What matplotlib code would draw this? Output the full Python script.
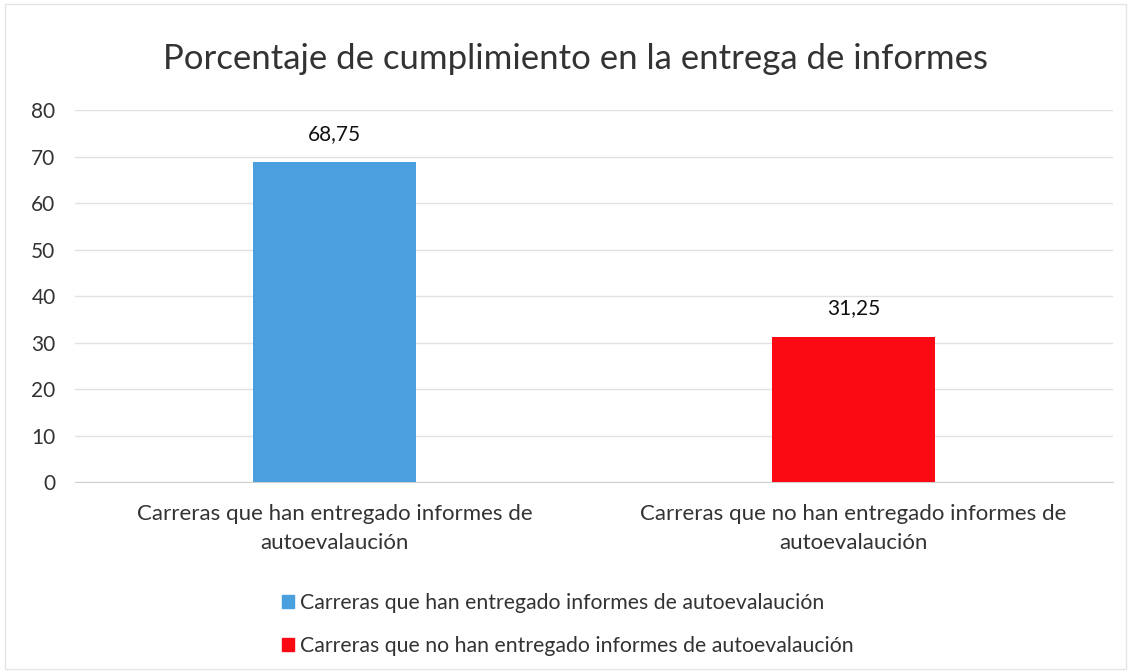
import matplotlib.pyplot as plt

plt.rcParams['font.family'] = ['Lato', 'DejaVu Sans']

# Datos del gráfico
categorias = ["Carreras que han entregado informes de\nautoevalaución",
              "Carreras que no han entregado informes de\nautoevalaución"]
leyenda = ["Carreras que han entregado informes de autoevalaución",
           "Carreras que no han entregado informes de autoevalaución"]
valores = [68.75, 31.25]
etiquetas = ["68,75", "31,25"]
colores = ["#4a9fdf", "#fc0a14"]

fig = plt.figure(figsize=(11.31, 6.72), dpi=100)
ax = fig.add_axes([0.0663, 0.2827, 0.918, 0.5536])

posiciones = range(len(valores))
barras = ax.bar(posiciones, valores, width=0.314, color=colores, label=leyenda, zorder=3)

for b, txt in zip(barras, etiquetas):
    ax.text(b.get_x() + b.get_width() / 2, b.get_height() + 4, txt,
            ha="center", va="bottom", fontsize=15, color="#111111")

ax.set_xlim(-0.5, 1.5)
ax.set_ylim(0, 80)
ax.set_yticks(range(0, 81, 10))
ax.set_xticks(list(posiciones))
ax.set_xticklabels(categorias, fontsize=16, color="#333333", linespacing=1.55)
ax.tick_params(axis="y", labelsize=15, colors="#333333", length=0, pad=14)
ax.tick_params(axis="x", length=0, pad=16)

ax.grid(axis="y", color="#e2e2e2", linewidth=1, zorder=0)
for s in ["top", "right", "left"]:
    ax.spines[s].set_visible(False)
ax.spines["bottom"].set_color("#d0d0d0")

fig.text(0.509, 0.912, "Porcentaje de cumplimiento en la entrega de informes",
         ha="center", va="center", fontsize=25, color="#333333")

handles = [plt.Rectangle((0, 0), 1, 1, color=c) for c in colores]
fig.legend(handles, leyenda, loc="upper center", bbox_to_anchor=(0.502, 0.146),
           ncol=1, frameon=False, fontsize=15.3, handlelength=0.55, handleheight=0.55,
           handletextpad=0.3, labelspacing=1.1, labelcolor="#333333")

fig.patches.append(plt.Rectangle((0.004, 0.004), 0.992, 0.99, transform=fig.transFigure,
                                 fill=False, edgecolor="#e4e4e4", linewidth=1))

fig.savefig("out.png", dpi=100)
